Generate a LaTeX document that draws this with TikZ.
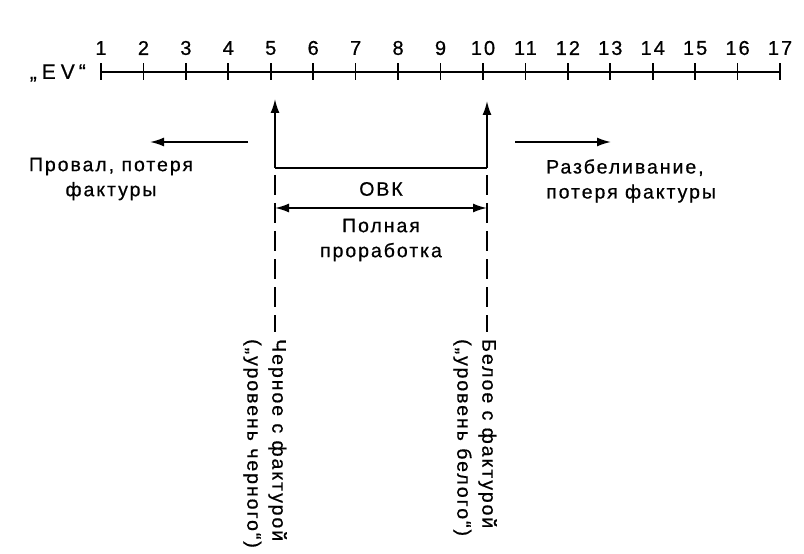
\documentclass[tikz,border=0pt]{standalone}
\usepackage{fontspec}
\setmainfont{Liberation Sans}[LetterSpace=10,FakeBold=0.6]
\usetikzlibrary{arrows.meta}
\begin{document}
\begin{tikzpicture}[x=1bp,y=-1bp,
  lbl/.style={inner sep=0pt, font=\fontsize{19.5bp}{25bp}\selectfont},
  num/.style={inner sep=0pt, font=\fontsize{20bp}{22bp}\selectfont},
  axisline/.style={line width=2.2bp},
  arr/.style={line width=1.7bp, -{Latex[length=14bp,width=9bp]}},
  darr/.style={line width=1.7bp, {Latex[length=14bp,width=9bp]}-{Latex[length=14bp,width=9bp]}},
  guide/.style={line width=1.7bp, dash pattern=on 20bp off 8bp}]
\useasboundingbox (0,0) rectangle (804,554);

% exposure value scale
\node[inner sep=0pt, font=\fontsize{21bp}{24bp}\selectfont, anchor=east] (ev) at (86,73)
  {„\kern5bp E\kern5bp V\kern4bp“};
\coordinate (s1) at (101,72);
\coordinate (s17) at (780,72);
\draw[axisline] (s1) -- (s17);
\foreach \i in {1,...,17} {
  \coordinate (t\i) at ({101+(\i-1)*42.44},72);
  \draw[line width=1.7bp] ([yshift=-8bp]t\i) -- ([yshift=9bp]t\i);
  \node[num] (n\i) at ({101+(\i-1)*42.44},48) {\i};
}

% dynamic range bracket
\coordinate (b5) at (275,168);
\coordinate (b10) at (487,168);
\coordinate (u5) at (275,99);
\coordinate (u10) at (487,101);
\draw[line width=1.7bp] (b5) -- (b10);
\draw[arr] (b5) -- (u5);
\draw[arr] (b10) -- (u10);

% under- and overexposure directions
\coordinate (la) at (248,142);
\coordinate (lb) at (150,142);
\coordinate (ra) at (515,142);
\coordinate (rb) at (611,142);
\draw[arr] (la) -- (lb);
\draw[arr] (ra) -- (rb);
\node[lbl, align=center] (under) at (111,179) {Провал, потеря\\фактуры};
\node[lbl, align=left, anchor=north west] (over) at (546,159) {Разбеливание,\\потеря фактуры};

% guide lines
\coordinate (g5a) at (275,175);
\coordinate (g5b) at (275,332);
\coordinate (g10a) at (487,175);
\coordinate (g10b) at (487,332);
\draw[guide] (g5a) -- (g5b);
\draw[guide] (g10a) -- (g10b);

% range label
\node[lbl] (ovk) at (381,189) {ОВК};
\coordinate (d5) at (275,208);
\coordinate (d10) at (487,208);
\draw[darr] (d5) -- (d10);
\node[lbl, align=center] (full) at (381,240) {Полная\\проработка};

% level labels
\node[lbl, rotate=-90, align=left, anchor=north west] (black) at (287,339)
  {Черное с фактурой\\(„уровень черного“)};
\node[lbl, rotate=-90, align=left, anchor=north west] (white) at (497,339)
  {Белое с фактурой\\(„уровень белого“)};
\end{tikzpicture}
\end{document}
